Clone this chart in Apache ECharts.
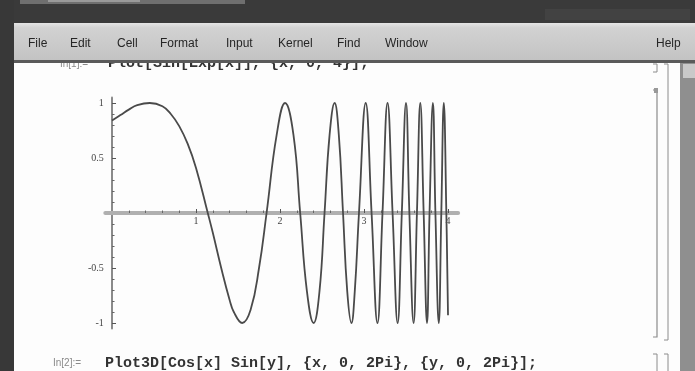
<!DOCTYPE html>
<html>
<head>
<meta charset="utf-8">
<script src="https://cdn.jsdelivr.net/npm/echarts@6/dist/echarts.min.js"></script>
<style>
html,body{margin:0;padding:0;background:#3b3b3b;}
#c{width:695px;height:371px;}
</style>
</head>
<body>
<div id="c"></div>
<script>
// ---- data: Plot[Sin[Exp[x]], {x, 0, 4}] ----
const xValues = [0, 0.1, 0.2, 0.3, 0.45, 0.6, 0.7, 0.8, 0.9, 1.0, 1.14, 1.2, 1.3, 1.4, 1.45, 1.55, 1.65, 1.75, 1.84, 1.96, 2.06, 2.16, 2.24, 2.32, 2.40, 2.47, 2.53, 2.59, 2.65, 2.70, 2.75, 2.80, 2.85, 2.89, 2.94, 3.02, 3.09, 3.16, 3.22, 3.28, 3.34, 3.40, 3.45, 3.50, 3.54, 3.59, 3.63, 3.67, 3.71, 3.75, 3.78, 3.82, 3.85, 3.89, 3.92, 3.95, 3.98, 4.00];
const yValues = [0.84, 0.89, 0.94, 0.98, 1.00, 0.97, 0.90, 0.79, 0.63, 0.41, 0.00, -0.18, -0.50, -0.79, -0.90, -1.00, -0.88, -0.50, 0.00, 0.71, 1.00, 0.71, 0.00, -0.71, -1.00, -0.71, 0.00, 0.71, 1.00, 0.71, 0.00, -0.71, -1.00, -0.71, 0.00, 1.00, 0.00, -1.00, 0.00, 1.00, 0.00, -1.00, 0.00, 1.00, 0.00, -1.00, 0.00, 1.00, 0.00, -1.00, 0.00, 1.00, 0.00, -1.00, 0.00, 1.00, 0.00, -0.93];
const xMajorTicks = [1, 2, 3, 4];
const xMinorTicks = [0.2, 0.4, 0.6, 0.8, 1.2, 1.4, 1.6, 1.8, 2.2, 2.4, 2.6, 2.8, 3.2, 3.4, 3.6, 3.8];
const yMajorTicks = [-1, -0.5, 0.5, 1];
const yMinorTicks = [-0.9, -0.8, -0.7, -0.6, -0.4, -0.3, -0.2, -0.1, 0.1, 0.2, 0.3, 0.4, 0.6, 0.7, 0.8, 0.9];
const menuItems = ['File', 'Edit', 'Cell', 'Format', 'Input', 'Kernel', 'Find', 'Window'];
const helpItem = 'Help';
const inputLabel1 = 'In[1]:=';
const inputCode1 = 'Plot[Sin[Exp[x]], {x, 0, 4}];';
const inputLabel2 = 'In[2]:=';
const inputCode2 = 'Plot3D[Cos[x] Sin[y], {x, 0, 2Pi}, {y, 0, 2Pi}];';

// ---- layout ----
const menuX = [28, 70, 117, 160, 226, 278, 337, 385];
const codeFont = 'bold 15px "Liberation Mono", "DejaVu Sans Mono", monospace';
const smallFont = '10px "Liberation Sans", sans-serif';
const menuFont = '12px "Liberation Sans", sans-serif';

const chart = echarts.init(document.getElementById('c'));

const graphics = [];
// notebook white page
graphics.push({type:'rect', z:-10, shape:{x:14, y:62, width:666, height:309}, style:{fill:'#fdfdfd'}});
// first input line (partly hidden under the menu bar)
graphics.push({type:'text', z:-9, style:{text:inputLabel1, x:60, y:64, font:smallFont, fill:'#8a8a8a', verticalAlign:'middle'}});
graphics.push({type:'text', z:-9, style:{text:inputCode1, x:108, y:63, font:codeFont, fill:'#333', verticalAlign:'middle'}});
// second input line
graphics.push({type:'text', z:-9, style:{text:inputLabel2, x:53, y:363, font:smallFont, fill:'#8a8a8a', verticalAlign:'middle'}});
graphics.push({type:'text', z:-9, style:{text:inputCode2, x:105, y:363, font:codeFont, fill:'#333', verticalAlign:'middle'}});
// top dark title area details
graphics.push({type:'rect', z:-8, shape:{x:0, y:0, width:695, height:24}, style:{fill:'#3a3a3a'}});
graphics.push({type:'rect', z:-7, shape:{x:20, y:0, width:225, height:4}, style:{fill:'#6f6f6f'}});
graphics.push({type:'rect', z:-7, shape:{x:48, y:0, width:92, height:2}, style:{fill:'#9a9a9a'}});
graphics.push({type:'rect', z:-7, shape:{x:545, y:9, width:145, height:11}, style:{fill:'#5a5a5a', opacity:0.25}});
// menu bar
graphics.push({type:'rect', z:-7, shape:{x:14, y:23, width:681, height:39}, style:{fill:{type:'linear', x:0, y:0, x2:0, y2:1, colorStops:[{offset:0, color:'#e4e4e4'}, {offset:0.12, color:'#d2d2d2'}, {offset:1, color:'#c2c2c2'}]}}});
graphics.push({type:'rect', z:-6, shape:{x:14, y:60, width:681, height:3}, style:{fill:'#5a5a5a'}});
menuItems.forEach((m, i) => {
  graphics.push({type:'text', z:-5, style:{text:m, x:menuX[i], y:44, font:menuFont, fill:'#262626', verticalAlign:'middle'}});
});
graphics.push({type:'text', z:-5, style:{text:helpItem, x:656, y:44, font:menuFont, fill:'#262626', verticalAlign:'middle'}});
// left dark border
graphics.push({type:'rect', z:-4, shape:{x:0, y:0, width:14, height:371}, style:{fill:'#383838'}});
// scrollbar
graphics.push({type:'rect', z:-4, shape:{x:680, y:63, width:15, height:308}, style:{fill:'#8f8f8f'}});
graphics.push({type:'rect', z:-3, shape:{x:683, y:64, width:12, height:14}, style:{fill:'#c9c9c9'}});
// cell brackets
const br = {stroke:'#8c8c8c', lineWidth:1};
graphics.push({type:'polyline', z:-3, shape:{points:[[653,64],[657,64],[657,72],[653,72]]}, style:br});
graphics.push({type:'polyline', z:-3, shape:{points:[[653,90],[657,90],[657,337],[653,337]]}, style:{stroke:'#8c8c8c', lineWidth:1.2}});
graphics.push({type:'rect', z:-3, shape:{x:654, y:88, width:4, height:5}, style:{fill:'#999'}});
graphics.push({type:'polyline', z:-3, shape:{points:[[664,64],[668,64],[668,340],[664,340]]}, style:br});
graphics.push({type:'polyline', z:-3, shape:{points:[[653,354],[657,354],[657,371]]}, style:br});
graphics.push({type:'polyline', z:-3, shape:{points:[[664,354],[668,354],[668,371]]}, style:br});

const option = {
  animation: false,
  backgroundColor: 'transparent',
  graphic: graphics,
  grid: [
    {left: 105.3, right: 236.9, top: 97.5, bottom: 42.5, containLabel: false},
    // helper grid whose bottom edge sits on y = 0, carrying the x tick labels
    {left: 105.3, right: 236.9, top: 97.5, bottom: 158, containLabel: false}
  ],
  xAxis: [
    {
      type: 'value', min: -0.08, max: 4.12, position: 'bottom', gridIndex: 0,
      axisLine: {show: true, onZero: true, onZeroAxisIndex: 0, lineStyle: {color: '#b0b0b0', width: 4}},
      axisTick: {show: true, inside: true, length: 4, customValues: xMajorTicks, lineStyle: {color: '#555', width: 1}},
      axisLabel: {show: false},
      splitLine: {show: false}
    },
    {
      type: 'value', min: -0.08, max: 4.12, position: 'bottom', gridIndex: 0,
      axisLine: {show: false, onZero: true, onZeroAxisIndex: 0},
      axisTick: {show: true, inside: true, length: 2.5, customValues: xMinorTicks, lineStyle: {color: '#666', width: 1}},
      axisLabel: {show: false},
      splitLine: {show: false}
    },
    {
      type: 'value', min: -0.08, max: 4.12, position: 'bottom', gridIndex: 1,
      axisLine: {show: false, onZero: false},
      axisTick: {show: false},
      axisLabel: {show: true, customValues: xMajorTicks, margin: 3, color: '#444', fontSize: 10, fontFamily: 'Liberation Serif'},
      splitLine: {show: false}
    }
  ],
  yAxis: [
    {
      type: 'value', min: -1.05, max: 1.05, position: 'left', gridIndex: 0,
      axisLine: {show: true, onZero: true, onZeroAxisIndex: 0, lineStyle: {color: '#8a8a8a', width: 2}},
      axisTick: {show: true, inside: true, length: 4, customValues: yMajorTicks, lineStyle: {color: '#555', width: 1}},
      axisLabel: {show: true, customValues: yMajorTicks, margin: 1.5, color: '#444', fontSize: 10, fontFamily: 'Liberation Serif'},
      splitLine: {show: false}
    },
    {
      type: 'value', min: -1.05, max: 1.05, position: 'left', gridIndex: 0,
      axisLine: {show: false, onZero: true, onZeroAxisIndex: 0},
      axisTick: {show: true, inside: true, length: 2.5, customValues: yMinorTicks, lineStyle: {color: '#666', width: 1}},
      axisLabel: {show: false},
      splitLine: {show: false}
    },
    {
      type: 'value', min: 0, max: 1, gridIndex: 1, show: false
    }
  ],
  series: [{
    type: 'line',
    xAxisIndex: 0, yAxisIndex: 0,
    data: xValues.map((x, i) => [x, yValues[i]]),
    smooth: 0.45,
    showSymbol: false,
    clip: false,
    lineStyle: {color: '#4a4a4a', width: 1.8},
    z: 3
  }]
};
chart.setOption(option);
</script>
</body>
</html>
